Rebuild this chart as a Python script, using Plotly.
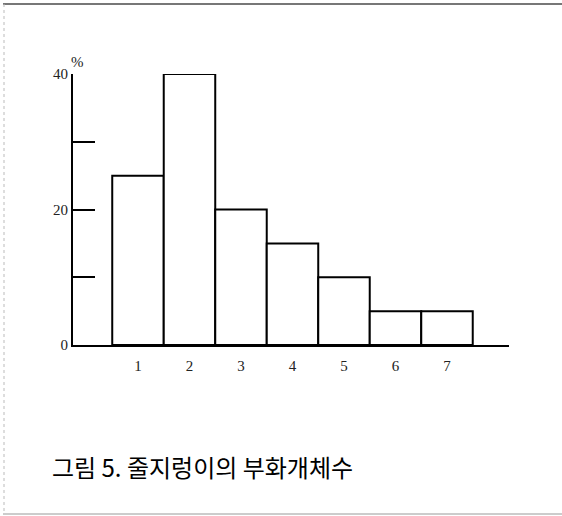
import plotly.graph_objects as go

categories = [1, 2, 3, 4, 5, 6, 7]
category_labels = ["1", "2", "3", "4", "5", "6", "7"]
percent_values = [25, 40, 20, 15, 10, 5, 5]
y_tick_values = [0, 10, 20, 30, 40]
y_tick_labels = ["0", "", "20", "", "40"]

fig = go.Figure()
fig.add_trace(go.Bar(
    x=categories,
    y=percent_values,
    width=1,
    marker=dict(color="white", line=dict(color="black", width=2)),
    showlegend=False,
    hoverinfo="skip",
))

serif = "Liberation Serif, Times New Roman, serif"

fig.update_layout(
    width=562,
    height=516,
    margin=dict(l=73, r=53, t=74, b=171),
    paper_bgcolor="white",
    plot_bgcolor="white",
    bargap=0,
    font=dict(family=serif, size=15, color="#222"),
    xaxis=dict(
        range=[-0.262, 8.204],
        tickvals=categories,
        ticktext=category_labels,
        ticks="",
        ticklabelstandoff=6,
        showgrid=False,
        zeroline=False,
        showline=True,
        linecolor="black",
        linewidth=2,
        tickfont=dict(family=serif, size=15, color="#222"),
        fixedrange=True,
    ),
    yaxis=dict(
        range=[0, 40],
        tickvals=y_tick_values,
        ticktext=y_tick_labels,
        ticks="inside",
        ticklen=22,
        tickwidth=2,
        tickcolor="black",
        showgrid=False,
        zeroline=False,
        showline=True,
        linecolor="black",
        linewidth=2,
        tickfont=dict(family=serif, size=15, color="#222"),
        fixedrange=True,
    ),
    annotations=[
        dict(
            text="%", xref="paper", yref="paper", x=0, y=1,
            xanchor="left", yanchor="bottom", xshift=-4, yshift=2,
            showarrow=False, font=dict(family=serif, size=15, color="#222"),
        ),
        dict(
            text="그림 5. 줄지렁이의 부화개체수", xref="paper", yref="paper",
            x=-0.0528, y=-0.45, xanchor="left", yanchor="middle",
            showarrow=False,
            font=dict(family="Noto Sans CJK KR", size=24, color="black"),
        ),
    ],
    shapes=[
        dict(type="line", xref="paper", yref="paper",
             x0=(3 - 73) / 436, x1=(562 - 73) / 436,
             y0=(345 - 4) / 271, y1=(345 - 4) / 271,
             line=dict(color="#777", width=2)),
        dict(type="line", xref="paper", yref="paper",
             x0=(4 - 73) / 436, x1=(4 - 73) / 436,
             y0=(345 - 4) / 271, y1=(345 - 514) / 271,
             line=dict(color="#bbb", width=1, dash="dot")),
        dict(type="line", xref="paper", yref="paper",
             x0=(3 - 73) / 436, x1=(562 - 73) / 436,
             y0=(345 - 514) / 271, y1=(345 - 514) / 271,
             line=dict(color="#999", width=1)),
    ],
)

fig.write_html(
    "out.html",
    config={"displayModeBar": False, "staticPlot": True},
    post_script="document.body.style.margin='0';document.body.style.overflow='hidden';",
)
